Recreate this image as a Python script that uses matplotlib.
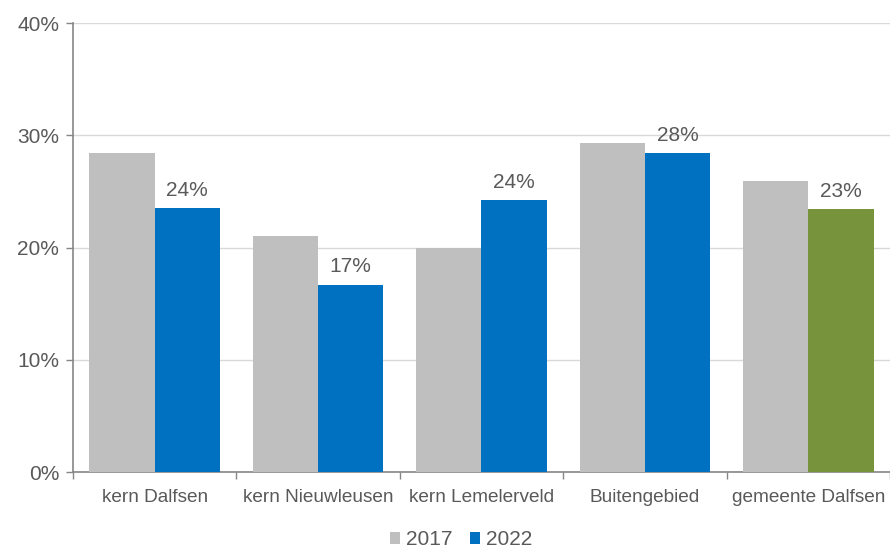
import numpy as np
import matplotlib
matplotlib.use('Agg')
import matplotlib.pyplot as plt
from matplotlib.ticker import FixedLocator, PercentFormatter

plt.rcParams['font.family'] = ['Liberation Sans', 'DejaVu Sans']

# gegevens
categories = ['kern Dalfsen', 'kern Nieuwleusen', 'kern Lemelerveld', 'Buitengebied', 'gemeente Dalfsen']
values_2017 = [28.4, 21.0, 20.0, 29.3, 25.9]
values_2022 = [23.5, 16.7, 24.2, 28.4, 23.4]
labels_2022 = ['24%', '17%', '24%', '28%', '23%']

grey = '#BFBFBF'
blue = '#0070C0'
green = '#77933C'
text_col = '#595959'
axis_col = '#868686'

fig = plt.figure(figsize=(8.9, 5.49), dpi=100)
ax = fig.add_axes([0.082, 0.140, 0.918, 0.818])

x = np.arange(len(categories))
w = 0.40
colors_2022 = [blue] * (len(categories) - 1) + [green]

ax.bar(x - w / 2, values_2017, w, color=grey, label='2017', zorder=3)
bars = ax.bar(x + w / 2, values_2022, w, color=colors_2022, label='2022', zorder=3)

for b, lab in zip(bars, labels_2022):
    ax.annotate(lab, (b.get_x() + b.get_width() / 2, b.get_height()),
                xytext=(0, 6), textcoords='offset points', ha='center', va='bottom',
                fontsize=15, color=text_col)

ax.set_xlim(-0.5, len(categories) - 0.5)
ax.set_ylim(0, 40)
ax.set_yticks([0, 10, 20, 30, 40])
ax.yaxis.set_major_formatter(PercentFormatter(decimals=0))
ax.grid(axis='y', color='#D9D9D9', linewidth=1, zorder=0)

# categorie-labels in het midden, tickstreepjes op de grenzen
ax.set_xticks(x)
ax.set_xticklabels(categories)
ax.xaxis.set_minor_locator(FixedLocator(np.arange(-0.5, len(categories), 1.0)))
ax.tick_params(axis='x', which='major', length=0, pad=12, labelsize=13.7, labelcolor=text_col)
ax.tick_params(axis='x', which='minor', length=5, color=axis_col, width=1)
ax.tick_params(axis='y', length=5, color=axis_col, width=1, labelsize=15, labelcolor=text_col, pad=5)

for s in ['top', 'right']:
    ax.spines[s].set_visible(False)
for s in ['left', 'bottom']:
    ax.spines[s].set_color(axis_col)
    ax.spines[s].set_linewidth(1.2)

leg = ax.legend(loc='center', bbox_to_anchor=(0.475, -0.15), ncol=2, frameon=False,
                fontsize=15, handlelength=0.5, handleheight=0.5, handletextpad=0.3,
                columnspacing=0.8, labelcolor=text_col, borderpad=0.1)

fig.savefig('out.png', dpi=100)
